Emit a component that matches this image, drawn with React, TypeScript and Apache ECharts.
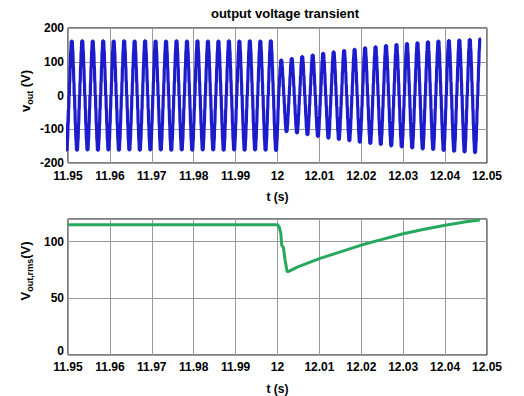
import React, { useEffect, useRef } from "react";
import * as echarts from "echarts";

// ---- output voltage waveform (multilevel staircase, ~400 Hz) ----
const PERIOD = 0.0025; // s
// start of the negative half-cycle that is in progress at t = 11.95 s
const HALF_START = 11.949025;
const END_TIME = 12.0486;

// positive peak of each cycle (V)
const POS_PEAKS = [
  161, 162, 161, 162, 161, 162, 161, 162, 161, 161,
  162, 161, 162, 161, 161, 162, 161, 162, 161, 162,
  105, 109, 115, 120, 125, 129, 133, 137, 141, 144,
  148, 151, 154, 156, 159, 161, 163, 164, 166, 168,
];
// negative peak of each cycle (V), beginning with the half-cycle before the window
const NEG_PEAKS = [
  -161, -162, -161, -162, -161, -162, -161, -162, -161, -161,
  -162, -161, -162, -161, -161, -162, -161, -162, -161, -162,
  -163, -107, -111, -116, -121, -126, -130, -134, -138, -142,
  -145, -149, -152, -155, -158, -160, -163, -165, -167, -169,
];
// one half-cycle of the staircase: [fraction of half-period, fraction of peak]
const HALF_SHAPE: [number, number][] = [
  [0, 0], [0.04, 0.02], [0.07, 0.22], [0.12, 0.27], [0.17, 0.5], [0.22, 0.55],
  [0.28, 0.78], [0.34, 0.85], [0.4, 1], [0.6, 1], [0.66, 0.85], [0.72, 0.78],
  [0.78, 0.55], [0.83, 0.5], [0.88, 0.27], [0.93, 0.22], [0.96, 0.02], [1, 0],
];

// ---- rms output voltage ----
const RMS_T = [
  11.95, 12.0, 12.0004, 12.0008, 12.001, 12.0014, 12.0018, 12.0023, 12.0028,
  12.005, 12.01, 12.015, 12.02, 12.025, 12.03, 12.035, 12.04, 12.045, 12.0483,
];
const RMS_V = [
  115, 115, 113, 107, 97, 95, 84, 73.5, 74,
  78, 85, 91, 97, 102, 107, 111, 114.5, 117.5, 119,
];

const X_MIN = 11.95;
const X_MAX = 12.05;
const X_STEP = 0.01;

const FONT = 'Arial, "Liberation Sans", sans-serif';

function buildVout(): [number, number][] {
  const halves: number[] = [NEG_PEAKS[0]];
  for (let k = 0; k < POS_PEAKS.length; k++) {
    halves.push(POS_PEAKS[k]);
    if (k + 1 < NEG_PEAKS.length) halves.push(NEG_PEAKS[k + 1]);
  }
  const pts: [number, number][] = [];
  halves.forEach((peak, i) => {
    const start = HALF_START + (i * PERIOD) / 2;
    HALF_SHAPE.forEach(([ph, lv]) => {
      const t = start + (ph * PERIOD) / 2;
      if (t <= END_TIME) pts.push([t, lv * peak]);
    });
  });
  return pts;
}

export default function App() {
  const ref = useRef<HTMLDivElement>(null);

  useEffect(() => {
    document.body.style.margin = "0";
    if (!ref.current) return;
    const chart = echarts.init(ref.current, null, { renderer: "svg" });

    const tickLabel = {
      color: "#000",
      fontFamily: FONT,
      fontWeight: "bold" as const,
      fontSize: 12,
    };
    const xAxisBase = (gridIndex: number, margin: number) => ({
      type: "value" as const,
      gridIndex,
      min: X_MIN,
      max: X_MAX,
      interval: X_STEP,
      name: "t (s)",
      nameLocation: "middle" as const,
      nameGap: 28,
      nameTextStyle: { ...tickLabel },
      axisLine: { show: false },
      axisTick: { show: false },
      axisLabel: {
        ...tickLabel,
        margin,
        formatter: (v: number) => String(parseFloat(v.toFixed(2))),
      },
      splitLine: { show: true, lineStyle: { color: "#9a9a9a", width: 1 } },
    });

    chart.setOption({
      animation: false,
      backgroundColor: "#fff",
      grid: [
        { left: 68, right: 37, top: 28, height: 135, show: true, borderColor: "#000", borderWidth: 1 },
        { left: 68, right: 37, top: 219, height: 137, show: true, borderColor: "#000", borderWidth: 1 },
      ],
      xAxis: [xAxisBase(0, 7), xAxisBase(1, 6)],
      yAxis: [
        {
          type: "value",
          gridIndex: 0,
          min: -200,
          max: 200,
          interval: 100,
          axisLine: { show: false },
          axisTick: { show: false },
          axisLabel: { ...tickLabel, margin: 4 },
          splitLine: { show: true, lineStyle: { color: "#9a9a9a", width: 1 } },
        },
        {
          type: "value",
          gridIndex: 1,
          min: 0,
          max: 120,
          interval: 50,
          axisLine: { show: false },
          axisTick: { show: false },
          axisLabel: {
            ...tickLabel,
            margin: 4,
            formatter: (v: number) =>
              v === 0 ? "{z|0}" : v % 50 === 0 ? String(v) : "",
            rich: {
              z: { ...tickLabel, padding: [0, 0, 8, 0] },
            },
          },
          splitLine: { show: true, lineStyle: { color: "#9a9a9a", width: 1 } },
        },
      ],
      series: [
        {
          type: "line",
          xAxisIndex: 0,
          yAxisIndex: 0,
          data: buildVout(),
          showSymbol: false,
          clip: true,
          lineStyle: { color: "#1c1ccc", width: 3.2 },
        },
        {
          type: "line",
          xAxisIndex: 1,
          yAxisIndex: 1,
          data: RMS_T.map((t, i) => [t, RMS_V[i]]),
          showSymbol: false,
          clip: true,
          lineStyle: { color: "#26a95c", width: 3 },
        },
      ],
      graphic: [
        {
          type: "text",
          x: 285,
          y: 13,
          style: {
            text: "output voltage transient",
            fontFamily: FONT,
            fontWeight: "bold",
            fontSize: 13,
            fill: "#000",
            align: "center",
            verticalAlign: "middle",
          },
        },
        {
          type: "text",
          x: 25,
          y: 91,
          rotation: Math.PI / 2,
          style: {
            text: "{m|v}{s|out}{m| (V)}",
            align: "center",
            verticalAlign: "middle",
            rich: {
              m: { fontFamily: FONT, fontWeight: "bold", fontSize: 13, fill: "#000", lineHeight: 18, verticalAlign: "middle" },
              s: { fontFamily: FONT, fontWeight: "bold", fontSize: 9, fill: "#000", lineHeight: 11, verticalAlign: "bottom" },
            },
          },
        },
        {
          type: "text",
          x: 25,
          y: 271,
          rotation: Math.PI / 2,
          style: {
            text: "{m|V}{s|out,rms}{m|(V)}",
            align: "center",
            verticalAlign: "middle",
            rich: {
              m: { fontFamily: FONT, fontWeight: "bold", fontSize: 13, fill: "#000", lineHeight: 18, verticalAlign: "middle" },
              s: { fontFamily: FONT, fontWeight: "bold", fontSize: 9, fill: "#000", lineHeight: 11, verticalAlign: "bottom" },
            },
          },
        },
      ],
    });

    return () => chart.dispose();
  }, []);

  return <div ref={ref} style={{ width: 524, height: 396 }} />;
}
